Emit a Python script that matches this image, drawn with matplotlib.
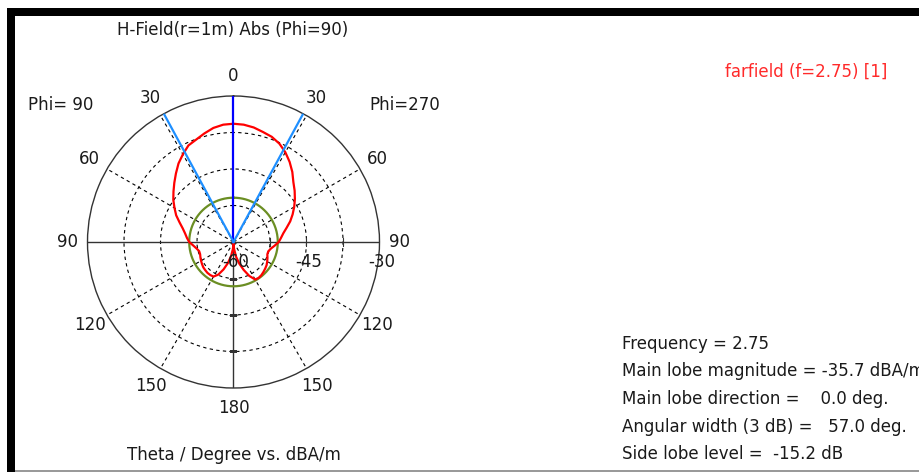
import numpy as np
import matplotlib.pyplot as plt
from matplotlib.patches import Rectangle

# far-field cut, theta in degrees (0 = boresight), values in dBA/m
theta = [0, 5, 10, 15, 20, 25, 30, 35, 40, 45, 50, 55, 60, 65, 70, 75, 80, 85, 90,
         95, 100, 105, 110, 115, 120, 125, 130, 135, 140, 145, 150, 155, 160, 165,
         170, 175, 180]
h_phi270 = [-35.7, -35.8, -36.1, -36.6, -37.0, -37.7, -38.7, -39.9, -41.2, -42.6,
            -43.6, -44.6, -45.6, -46.6, -47.6, -48.7, -49.6, -50.2, -50.7,
            -51.5, -52.2, -52.6, -52.6, -52.3, -52.0, -51.7, -51.5, -51.3, -51.1,
            -51.0, -51.1, -52.3, -53.9, -55.4, -56.9, -58.5, -59.5]
h_phi90 = [-35.7, -35.8, -36.2, -36.9, -37.6, -38.1, -39.2, -40.3, -41.6, -42.8,
           -43.9, -44.9, -46.0, -47.0, -48.2, -49.2, -49.9, -50.4, -50.9,
           -51.7, -52.3, -52.7, -52.7, -52.5, -52.3, -52.1, -51.9, -51.8, -51.7,
           -51.7, -51.8, -52.6, -54.0, -55.5, -57.0, -58.5, -59.5]

frequency = 2.75
main_lobe_mag = -35.7
main_lobe_dir = 0.0
angular_width = 57.0
side_lobe_level = -15.2

r_min, r_max = -60, -30
r_grid = [-52.5, -45, -37.5]
r_labels = [-60, -45, -30]
angle_labels = [0, 30, 60, 90, 120, 150, 180]
spokes = [30, 60, 120, 150, 210, 240, 300, 330]

ink = '#1a1a1a'
fs = 12


def fx(x):
    return x / 920


def fy(y):
    return 1 - y / 472


fig = plt.figure(figsize=(9.2, 4.72), dpi=100)
ax = fig.add_axes([fx(87.5), fy(388), 292 / 920, 292 / 472], projection='polar')
ax.set_theta_zero_location('N')
ax.set_theta_direction(1)
ax.set_ylim(r_min, r_max)

ax.set_yticks(r_grid)
ax.set_yticklabels([])
ax.set_xticks(np.radians(spokes))
ax.set_xticklabels([])
ax.grid(True, color='black', linestyle=(0, (3, 3)), linewidth=0.8)
ax.spines['polar'].set_color('#333333')
ax.spines['polar'].set_linewidth(1.0)

# solid axis lines: horizontal diameter and lower half of the vertical
for a in [90, -90, 180]:
    ax.plot(np.radians([a, a]), [r_min, r_max], color='#333333', lw=1.0, zorder=3)
ax.plot(np.full(3, np.radians(-90)), r_grid, ls='none', marker='|', ms=6,
        color='#333333', mew=0.8, zorder=3)
ax.plot(np.full(3, np.pi), r_grid, ls='none', marker='_', ms=6,
        color='#333333', mew=0.8, zorder=3)

# side lobe reference circle
ring = np.linspace(0, 2 * np.pi, 361)
ax.plot(ring, np.full_like(ring, main_lobe_mag + side_lobe_level),
        color='#6b8e23', lw=1.6, zorder=4)

# pattern: phi=270 half on the right, phi=90 half on the left
ang = np.concatenate([-np.array(theta[::-1]), np.array(theta[1:])])
val = np.concatenate([np.array(h_phi270[::-1]), np.array(h_phi90[1:])])
ax.plot(np.radians(ang), val, color='red', lw=1.6, zorder=5)

# main lobe direction and 3 dB beamwidth
ax.plot(np.radians([main_lobe_dir] * 2), [r_min, r_max], color='#0000ff', lw=1.6, zorder=6)
for s in (-1, 1):
    a = main_lobe_dir + s * angular_width / 2
    ax.plot(np.radians([a, a]), [r_min, r_max], color='#1e8fff', lw=1.6, zorder=6)

# angle labels on both sides
r_text = r_min + 166 / 146 * (r_max - r_min)
for a in angle_labels:
    sides = [a] if a in (0, 180) else [a, -a]
    for t in sides:
        ax.text(np.radians(t), r_text, str(a), ha='center', va='center',
                fontsize=fs, color=ink, clip_on=False)

for v in r_labels:
    ax.annotate(str(v), xy=(np.radians(-90), v), xytext=(2, -20),
                textcoords='offset pixels', ha='center', va='center',
                fontsize=fs, color=ink, zorder=7)

fig.text(fx(233), fy(30), 'H-Field(r=1m) Abs (Phi=90)', ha='center', va='center',
         fontsize=fs, color=ink)
fig.text(fx(61), fy(105), 'Phi= 90', ha='center', va='center', fontsize=fs, color=ink)
fig.text(fx(405), fy(105), 'Phi=270', ha='center', va='center', fontsize=fs, color=ink)
fig.text(fx(234), fy(455), 'Theta / Degree vs. dBA/m', ha='center', va='center',
         fontsize=fs, color=ink)
fig.text(fx(806), fy(72), f'farfield (f={frequency}) [1]', ha='center', va='center',
         fontsize=fs, color='#ff2a2a')

info = [
    f'Frequency = {frequency}',
    f'Main lobe magnitude = {main_lobe_mag:.1f} dBA/m',
    f'Main lobe direction =    {main_lobe_dir:.1f} deg.',
    f'Angular width (3 dB) =   {angular_width:.1f} deg.',
    f'Side lobe level =  {side_lobe_level:.1f} dB',
]
for i, line in enumerate(info):
    fig.text(fx(622), fy(344 + i * 27.5), line, ha='left', va='center',
             fontsize=fs, color=ink)

# window frame
fig.add_artist(Rectangle((fx(7), fy(16)), 1 - fx(7), 8 / 472,
                         transform=fig.transFigure, color='black', lw=0))
fig.add_artist(Rectangle((fx(7), 0), 8 / 920, fy(8),
                         transform=fig.transFigure, color='black', lw=0))
fig.add_artist(Rectangle((fx(15), 0), 1 - fx(15), 2 / 472,
                         transform=fig.transFigure, color='#9a9a9a', lw=0))

fig.savefig('out.png', dpi=100)
